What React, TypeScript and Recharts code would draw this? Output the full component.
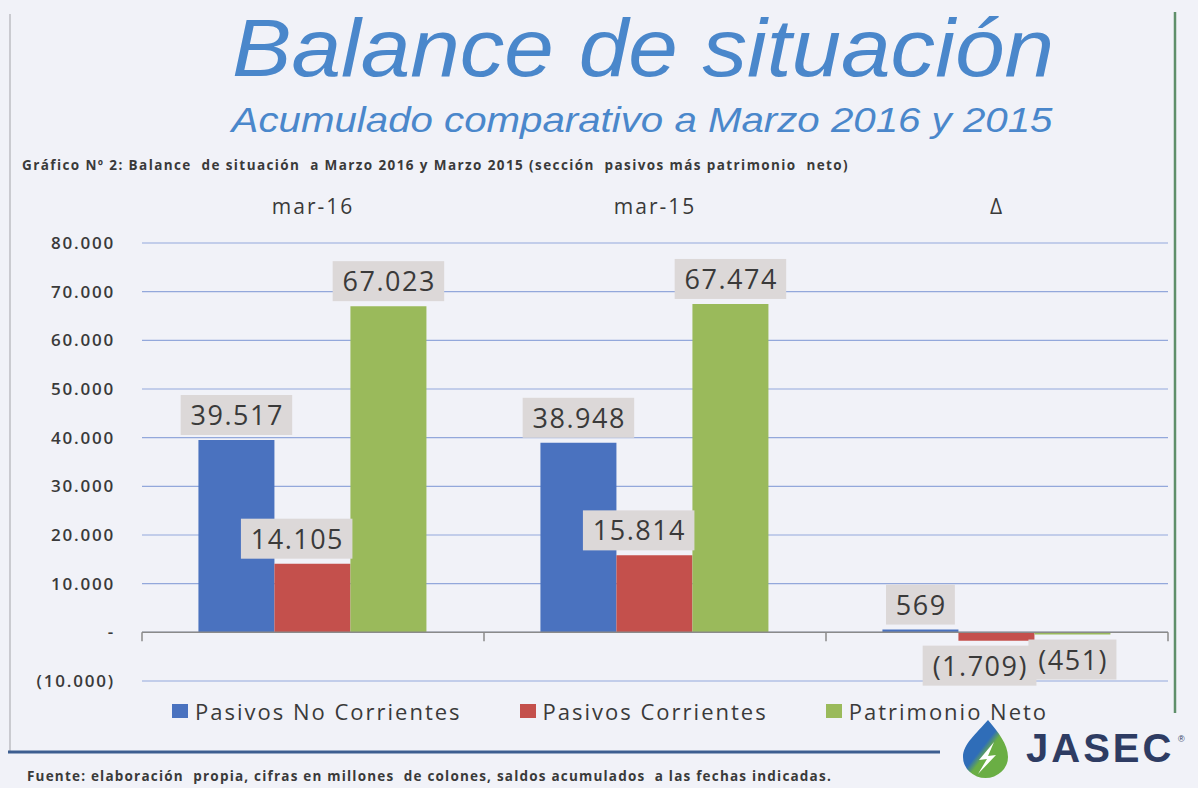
import React from "react";
import {
  BarChart,
  Bar,
  XAxis,
  YAxis,
  CartesianGrid,
  ReferenceLine,
  Legend,
  LabelList,
} from "recharts";

// valores en millones de colones
const categories = ["mar-16", "mar-15", "Δ"];
const pasivosNoCorrientes = [39517, 38948, 569];
const pasivosCorrientes = [14105, 15814, -1709];
const patrimonioNeto = [67023, 67474, -451];
const yTicks = [-10000, 0, 10000, 20000, 30000, 40000, 50000, 60000, 70000, 80000];

const series = [
  { key: "pnc", name: "Pasivos No Corrientes", color: "#4a72bf", align: "center" },
  { key: "pc", name: "Pasivos Corrientes", color: "#c4504c", align: "right" },
  { key: "pn", name: "Patrimonio Neto", color: "#9aba5b", align: "center" },
];

const data = categories.map((cat, i) => ({
  cat,
  pnc: pasivosNoCorrientes[i],
  pc: pasivosCorrientes[i],
  pn: patrimonioNeto[i],
}));

const FONT = "'Open Sans', 'Noto Sans', sans-serif";
const TEXT = "#3a3a3a";

function fmt(v: number) {
  const s = String(Math.abs(v)).replace(/\B(?=(\d{3})+(?!\d))/g, ".");
  return v < 0 ? `(${s})` : s;
}

function yTick(v: number) {
  if (v === 0) return "-";
  return fmt(v);
}

function BoxLabel(props: any) {
  const vb = props.viewBox && props.viewBox.width !== undefined ? props.viewBox : props;
  const { x, y, width, height } = vb;
  const value = Number(props.value);
  if (isNaN(value)) return null;
  const text = fmt(value);
  const fs = 27;
  let em = 0;
  for (const ch of text) em += /\d/.test(ch) ? 0.572 : ch === "." ? 0.27 : 0.3;
  const tw = em * fs + text.length * 1.5;
  const bw = tw + 18;
  const bh = 40;
  // las etiquetas rojas van alineadas al borde derecho de la barra
  const cx = props.align === "right" ? x + width + 2 - bw / 2 : x + width / 2;
  const top = Math.min(y, y + height);
  const bottom = Math.max(y, y + height);
  const by = value >= 0 ? top - 5 - bh : bottom + 5;
  return (
    <g>
      <rect x={cx - bw / 2} y={by} width={bw} height={bh} fill="#dcd8d8" />
      <text
        x={cx + 0.75}
        y={by + 30}
        textAnchor="middle"
        fontSize={fs}
        letterSpacing={1.5}
        fill={TEXT}
        fontFamily={FONT}
      >
        {text}
      </text>
    </g>
  );
}

function ZeroAxis(props: any) {
  const { x1, x2, y1 } = props;
  const n = categories.length;
  const step = (x2 - x1) / n;
  return (
    <g>
      <line x1={x1} x2={x2} y1={y1} y2={y1} stroke="#8a8a8a" strokeWidth={1.5} />
      {Array.from({ length: n + 1 }, (_, i) => (
        <line
          key={i}
          x1={x1 + i * step}
          x2={x1 + i * step}
          y1={y1}
          y2={y1 + 9}
          stroke="#8a8a8a"
          strokeWidth={1.5}
        />
      ))}
    </g>
  );
}

function LegendContent(props: any) {
  const order = series.map((s) => s.name);
  const items = [...(props.payload || [])].sort(
    (a: any, b: any) => order.indexOf(a.value) - order.indexOf(b.value)
  );
  return (
    <div
      style={{
        display: "flex",
        height: 30,
        alignItems: "center",
        fontFamily: FONT,
        fontSize: 22,
        letterSpacing: 2,
        color: TEXT,
        whiteSpace: "nowrap",
      }}
    >
      {items.map((p: any, i: number) => (
        <div key={i} style={{ display: "flex", alignItems: "center", marginRight: 58 }}>
          <span
            style={{
              display: "inline-block",
              width: 16,
              height: 14,
              background: p.color,
              marginRight: 7,
            }}
          />
          <span>{p.value}</span>
        </div>
      ))}
    </div>
  );
}

function Decor() {
  return (
    <svg width={1198} height={788} style={{ position: "absolute", left: 0, top: 0 }}>
      <defs>
        <linearGradient id="drop" x1="0" y1="0" x2="1" y2="1">
          <stop offset="0.45" stopColor="#2f6db8" />
          <stop offset="0.55" stopColor="#6aae44" />
        </linearGradient>
      </defs>
      {/* marco */}
      <line x1={10} x2={10} y1={14} y2={752} stroke="#a3a3a8" strokeWidth={1} />
      <line x1={1175} x2={1175} y1={12} y2={713} stroke="#5f8f6a" strokeWidth={2.5} />
      <line x1={8} x2={940} y1={752} y2={752} stroke="#3d5e90" strokeWidth={3} />

      <g transform="translate(643,76) scale(1.1,1)">
        <text x={0} y={0} textAnchor="middle" fontSize={81} fontStyle="italic" fill="#4a87cb" fontFamily="'Liberation Sans', Arial, sans-serif">
          Balance de situación
        </text>
      </g>
      <g transform="translate(642,132) scale(1.15,1)">
        <text x={0} y={0} textAnchor="middle" fontSize={35} fontStyle="italic" fill="#4a87cb" fontFamily="'Liberation Sans', Arial, sans-serif">
          Acumulado comparativo a Marzo 2016 y 2015
        </text>
      </g>
      <text x={22} y={170} fontSize={13.5} fontWeight={700} fill={TEXT} fontFamily={FONT} letterSpacing={1.4} style={{ whiteSpace: "pre" }}>
        Gráfico Nº 2: Balance  de situación  a Marzo 2016 y Marzo 2015 (sección  pasivos más patrimonio  neto)
      </text>
      <text x={27} y={781} fontSize={13.5} fontWeight={700} fill={TEXT} fontFamily={FONT} letterSpacing={1.2} style={{ whiteSpace: "pre" }}>
        Fuente: elaboración  propia, cifras en millones  de colones, saldos acumulados  a las fechas indicadas.
      </text>

      {/* logo JASEC */}
      <path
        d="M988 720 C976 734 963 744 963 757 A22.5 21 0 0 0 1008 757 C1008 744 998 732 988 720 Z"
        fill="url(#drop)"
      />
      <path d="M994 742 L979 760 L987 759 L978 774 L996 755 L988 756 Z" fill="#ffffff" />
      <text x={1026} y={762} fontSize={40} fontWeight={700} letterSpacing={3} fill="#2e3c63" fontFamily="'Liberation Sans', Arial, sans-serif">
        JASEC
      </text>
      <text x={1178} y={742} fontSize={9} fill="#2e3c63" fontFamily="'Liberation Sans', Arial, sans-serif">
        ®
      </text>
    </svg>
  );
}

export default function App() {
  return (
    <div
      style={{
        position: "absolute",
        left: 0,
        top: 0,
        width: 1198,
        height: 788,
        background: "#f1f2f8",
        overflow: "hidden",
      }}
    >
      <Decor />
      <div style={{ position: "absolute", left: 0, top: 0 }}>
        <BarChart
          width={1198}
          height={788}
          data={data}
          margin={{ top: 203, right: 30, bottom: 77, left: 22 }}
          barCategoryGap="16.5%"
          barGap={0}
        >
          <CartesianGrid horizontal vertical={false} stroke="#93a8db" strokeWidth={1.2} />
          <XAxis
            dataKey="cat"
            orientation="top"
            height={40}
            axisLine={false}
            tickLine={false}
            tickSize={0}
            tickMargin={29}
            tick={{ fontSize: 21, fill: TEXT, fontFamily: FONT, letterSpacing: 2 }}
          />
          <YAxis
            domain={[-10000, 80000]}
            ticks={yTicks}
            tickFormatter={yTick}
            width={120}
            axisLine={false}
            tickLine={false}
            tickSize={0}
            tickMargin={27}
            tick={{ fontSize: 17, fill: TEXT, fontFamily: FONT, fontWeight: 600, letterSpacing: 1.8 }}
          />
          {series.map((s) => (
            <Bar key={s.key} dataKey={s.key} name={s.name} fill={s.color} isAnimationActive={false}>
              <LabelList
                dataKey={s.key}
                content={(p: any) => <BoxLabel {...p} align={s.align} />}
              />
            </Bar>
          ))}
          <ReferenceLine y={0} shape={ZeroAxis} />
          <Legend
            verticalAlign="bottom"
            content={LegendContent}
            wrapperStyle={{ top: 696, bottom: "auto", left: 172, width: 960 }}
          />
        </BarChart>
      </div>
    </div>
  );
}
